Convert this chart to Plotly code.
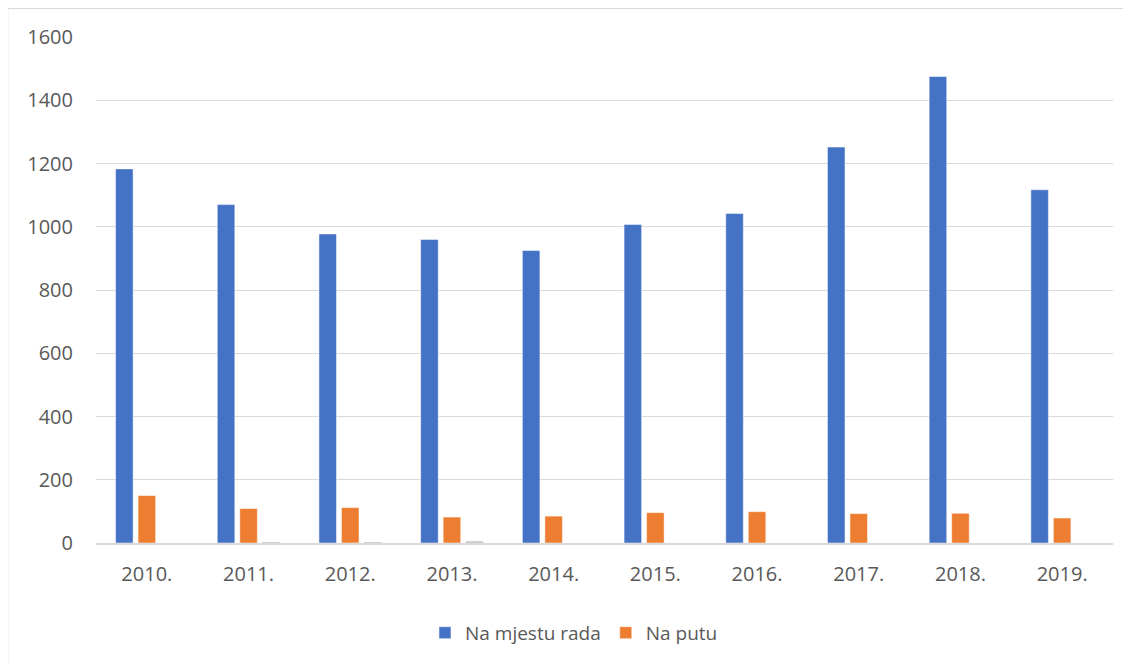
import plotly.graph_objects as go

years = ["2010.", "2011.", "2012.", "2013.", "2014.", "2015.", "2016.", "2017.", "2018.", "2019."]
na_mjestu_rada = [1183, 1070, 977, 960, 925, 1007, 1042, 1252, 1475, 1117]
na_putu = [150, 109, 112, 82, 85, 96, 99, 93, 94, 79]
ostalo = [0, 1, 1, 5, 0, 0, 0, 0, 0, 0]
y_ticks = [0, 200, 400, 600, 800, 1000, 1200, 1400, 1600]

font_family = "Open Sans, Liberation Sans, sans-serif"
text_color = "#595959"

fig = go.Figure()
fig.add_trace(go.Bar(x=years, y=na_mjestu_rada, name="Na mjestu rada",
                     marker=dict(color="#4472C4", line=dict(color="#FFFFFF", width=0.5))))
fig.add_trace(go.Bar(x=years, y=na_putu, name="Na putu",
                     marker=dict(color="#ED7D31", line=dict(color="#FFFFFF", width=0.5))))
fig.add_trace(go.Bar(x=years, y=ostalo, name="Ostalo", showlegend=False,
                     marker=dict(color="#D0D0D0", line=dict(width=0))))

fig.update_layout(
    width=1123, height=656,
    margin=dict(l=88, r=18, t=29, b=117),
    paper_bgcolor="white", plot_bgcolor="white",
    barmode="group", bargap=0.336, bargroupgap=0.22,
    font=dict(family=font_family, size=20, color=text_color),
    showlegend=True,
    legend=dict(orientation="h", x=0.47, xanchor="center", y=-0.14, yanchor="top",
                font=dict(size=19, color=text_color), itemwidth=30,
                traceorder="normal"),
    xaxis=dict(showgrid=False, showline=True, linecolor="#D9D9D9", linewidth=1.5,
               ticks="", ticklabelstandoff=12, tickfont=dict(size=20, color=text_color)),
    yaxis=dict(range=[0, 1600], tickvals=y_ticks, showgrid=True, gridcolor="#D9D9D9",
               gridwidth=1, zeroline=False, showline=False, ticks="",
               ticklabelstandoff=22, tickfont=dict(size=20, color=text_color)),
    shapes=[dict(type="rect", xref="paper", yref="paper",
                 x0=-0.087, x1=1.05, y0=-0.3, y1=1.057,
                 line=dict(color="#D9D9D9", width=1.5), fillcolor="rgba(0,0,0,0)",
                 layer="below")],
)

fig.write_html("out.html")
